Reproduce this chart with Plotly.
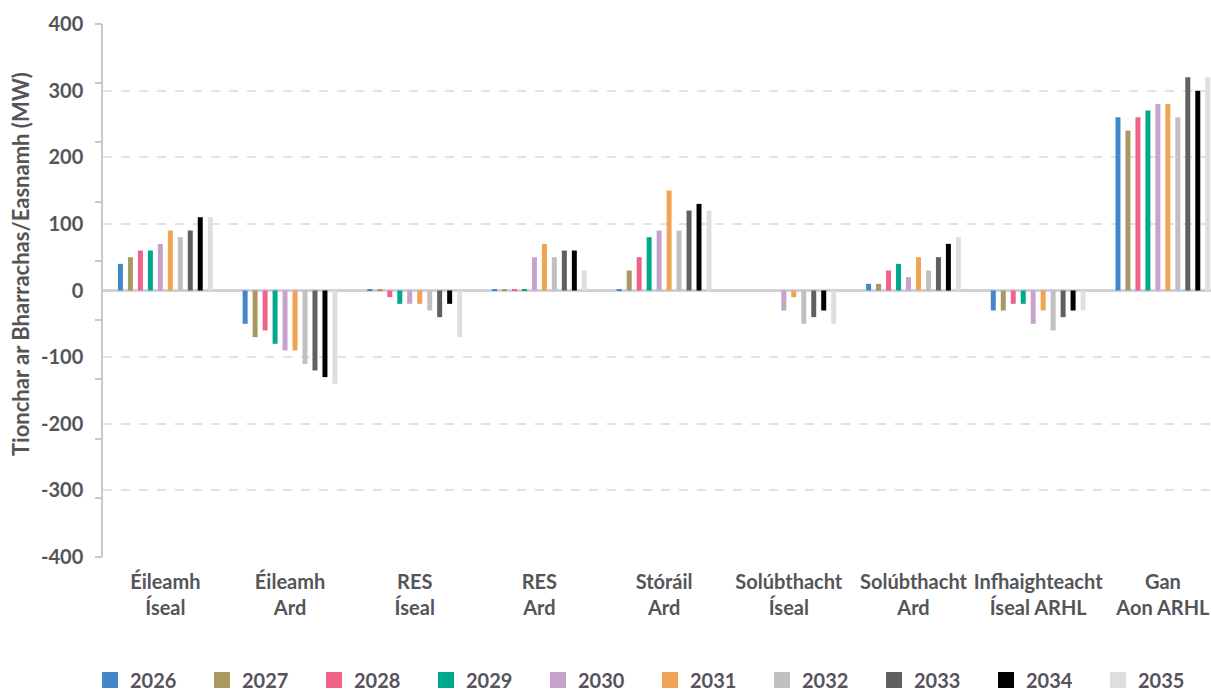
import plotly.graph_objects as go

# Scenario categories (x axis) and study years (series)
categories = [
    "Éileamh<br>Íseal", "Éileamh<br>Ard", "RES<br>Íseal", "RES<br>Ard",
    "Stóráil<br>Ard", "Solúbthacht<br>Íseal", "Solúbthacht<br>Ard",
    "Infhaighteacht<br>Íseal ARHL", "Gan<br>Aon ARHL",
]
years = ["2026", "2027", "2028", "2029", "2030", "2031", "2032", "2033", "2034", "2035"]

# Impact on surplus/deficit (MW), one list per year, in category order
v2026 = [40, -50, 1, 1, 1, 0, 10, -30, 260]
v2027 = [50, -70, 1, 1, 30, 0, 10, -30, 240]
v2028 = [60, -60, -10, 1, 50, 0, 30, -20, 260]
v2029 = [60, -80, -20, 1, 80, 0, 40, -20, 270]
v2030 = [70, -90, -20, 50, 90, -30, 20, -50, 280]
v2031 = [90, -90, -20, 70, 150, -10, 50, -30, 280]
v2032 = [80, -110, -30, 50, 90, -50, 30, -60, 260]
v2033 = [90, -120, -40, 60, 120, -40, 50, -40, 320]
v2034 = [110, -130, -20, 60, 130, -30, 70, -30, 300]
v2035 = [110, -140, -70, 30, 120, -50, 80, -30, 320]
series = [v2026, v2027, v2028, v2029, v2030, v2031, v2032, v2033, v2034, v2035]

colors = ["#4287c8", "#a89862", "#f0628a", "#00a88c", "#c6a3cd",
          "#f0a352", "#c0c0c0", "#606060", "#000000", "#dedede"]

y_ticks = [-400, -300, -200, -100, 0, 100, 200, 300, 400]
y_tick_labels = ["-400", "-300", "-200", "-100", "0", "100", "200", "300", "400"]
y_title = "Tionchar ar Bharrachas/Easnamh (MW)"

FONT = "Lato"
TXT = "#555559"
SIZE = 20

# plot-area geometry in pixels, used to place the legend and axis title
W, H = 1211, 693
ML, MT, MB = 103, 24, 136
PW, PH = W - ML, H - MT - MB

fig = go.Figure()
x_idx = list(range(len(categories)))
for yr, vals, col in zip(years, series, colors):
    fig.add_trace(go.Bar(
        x=x_idx, y=vals, name=yr, marker_color=col, marker_line_width=0,
        showlegend=False, legendgroup=yr,
    ))
    # legend entry with a larger square swatch
    fig.add_trace(go.Scatter(
        x=[None], y=[None], mode="markers", name=yr, legendgroup=yr,
        marker=dict(symbol="square", size=16, color=col),
    ))

# invisible overlay axis carrying the evenly spaced minor ticks on the left spine
fig.add_trace(go.Scatter(x=[None], y=[None], yaxis="y2", showlegend=False,
                         hoverinfo="skip"))

fig.update_layout(
    width=W, height=H,
    margin=dict(l=ML, r=0, t=MT, b=MB, autoexpand=False),
    paper_bgcolor="white", plot_bgcolor="white",
    font=dict(family=FONT, size=SIZE, color=TXT),
    barmode="group", bargap=0.2, bargroupgap=0.5,
    xaxis=dict(
        tickmode="array", tickvals=x_idx, ticktext=categories,
        range=[-0.5, 8.386], showgrid=False, zeroline=False, showline=False,
        ticks="outside", ticklen=7, tickcolor="rgba(0,0,0,0)",
        tickfont=dict(family=FONT, size=SIZE, color=TXT, weight="bold"),
    ),
    yaxis=dict(
        range=[-400, 400], tickmode="array", tickvals=y_ticks,
        ticktext=y_tick_labels,
        showgrid=True, gridcolor="#e2e2e6", gridwidth=2, griddash="dash",
        zeroline=True, zerolinecolor="#d0d0d8", zerolinewidth=3,
        showline=True, linecolor="#c8c8d2", linewidth=1.5,
        ticks="outside", ticklen=14, tickcolor="rgba(0,0,0,0)",
        tickfont=dict(family=FONT, size=SIZE, color=TXT, weight="bold"),
    ),
    yaxis2=dict(
        overlaying="y", side="left", range=[0, 9], tickmode="array",
        tickvals=list(range(10)), showticklabels=False, showgrid=False,
        zeroline=False, showline=False, ticks="outside", ticklen=7,
        tickcolor="#c8c8d2", tickwidth=1.5,
    ),
    legend=dict(
        orientation="h", xref="paper", yref="paper",
        x=(90 - ML) / PW, xanchor="left",
        y=(MT + PH - 680) / PH, yanchor="middle",
        entrywidth=67, entrywidthmode="pixels",
        font=dict(family=FONT, size=SIZE, color=TXT, weight="bold"),
        itemclick=False, itemdoubleclick=False,
    ),
    annotations=[dict(
        text=y_title, textangle=-90, showarrow=False,
        xref="paper", yref="paper", x=(20 - ML) / PW, y=(MT + PH - 264) / PH,
        xanchor="center", yanchor="middle",
        font=dict(family=FONT, size=22, color=TXT, weight="bold"),
    )],
)

fig.write_html("out.html")
